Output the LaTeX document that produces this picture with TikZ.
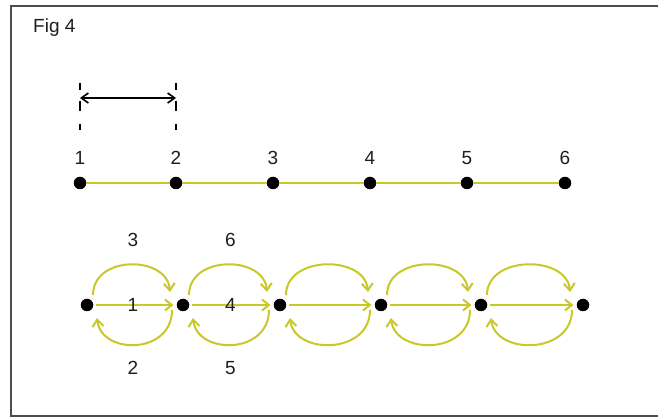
\documentclass[tikz,border=0pt]{standalone}
\usepackage{fontspec}
\setmainfont{Liberation Sans}
\usetikzlibrary{arrows.meta, calc}
\definecolor{chainyel}{RGB}{200,200,40}
\definecolor{textgray}{RGB}{30,30,30}

\begin{document}
\begin{tikzpicture}[
  x=1pt, y=1pt, font=\fontsize{19}{21}\selectfont, text=textgray,
  dot/.style={circle, fill=black, inner sep=0pt, minimum size=12.5pt},
  lbl/.style={inner sep=0pt},
  yl/.style={draw=chainyel, line width=2pt},
  ar/.style={yl, -{Straight Barb[length=7pt,width=11pt]}},
  tick/.style={line width=1.7pt, dash pattern=on 7pt off 11pt on 10pt off 13pt},
  dimar/.style={line width=1.6pt, {Straight Barb[length=7pt,width=10pt]}-{Straight Barb[length=7pt,width=10pt]}}]
\useasboundingbox (0,0) rectangle (658,417);
\draw[gray!60!black, line width=1.2pt] (680,411) -- (11,411) -- (11,1) -- (680,1);
\node[lbl, anchor=west] (fig) at (33,389) {Fig 4};
% spacing of the upper chain
\foreach \i/\x in {1/80,2/176,3/273,4/370,5/467,6/565}{
  \node[dot] (t\i) at (\x,234) {};
  \node[lbl] (n\i) at (\x,259) {\i};
}
\foreach \i [count=\j from 2] in {1,...,5} \draw[yl] (t\i) -- (t\j);
\draw[tick] ($(t1)+(0,100)$) -- ++(0,-47);
\draw[tick] ($(t2)+(0,100)$) -- ++(0,-47);
\coordinate (dl) at ($(t1)+(0,85)$);
\coordinate (dr) at ($(t2)+(0,85)$);
\draw[dimar] (dl) -- (dr);
% lower chain with loops
\foreach \i/\x in {1/87,2/183,3/280,4/381,5/481,6/583}
  \node[dot] (b\i) at (\x,112) {};
\foreach \i [count=\j from 2] in {1,...,5}{
  \draw[ar, shorten <=3pt, shorten >=3pt] (b\i) -- (b\j);
  \draw[ar] ($(b\i)+(6,10)$) .. controls ($(b\i)+(6,50)$) and ($(b\j)+(-16,50)$) .. ($(b\j)+(-13,13)$);
  \draw[ar] ($(b\j)+(-11,-5)$) .. controls ($(b\j)+(-11,-50)$) and ($(b\i)+(14,-50)$) .. ($(b\i)+(10,-13)$);
}
\node[lbl] (u3) at ($(b1)!0.5!(b2)+(-2,65)$) {3};
\node[lbl] (m1) at ($(b1)!0.5!(b2)+(-2,0)$) {1};
\node[lbl] (d2) at ($(b1)!0.5!(b2)+(-2,-63)$) {2};
\node[lbl] (u6) at ($(b2)!0.5!(b3)+(-1,65)$) {6};
\node[lbl] (m4) at ($(b2)!0.5!(b3)+(-1,0)$) {4};
\node[lbl] (d5) at ($(b2)!0.5!(b3)+(-1,-63)$) {5};
\end{tikzpicture}
\end{document}
